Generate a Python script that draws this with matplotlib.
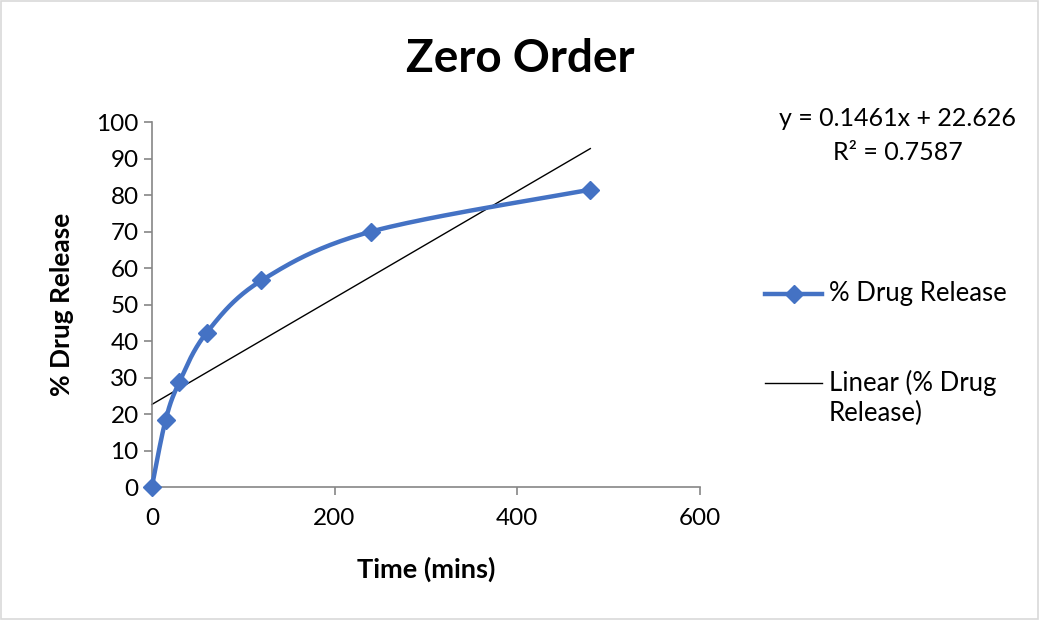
import matplotlib.pyplot as plt
import numpy as np
from matplotlib.lines import Line2D

# Data
time_mins = [0, 15, 30, 60, 120, 240, 480]
drug_release = [0, 18.3, 28.7, 42.3, 56.6, 70.0, 81.5]
slope = 0.1461
intercept = 22.626
r_squared = 0.7587

plt.rcParams['font.family'] = ['Lato', 'DejaVu Sans']

BLUE = '#4472C4'
GREY = '#868686'


def smooth_curve(x, y, n=40):
    # Catmull-Rom style smoothing, similar to Excel's "smoothed line"
    x = np.asarray(x, float)
    y = np.asarray(y, float)
    px = np.concatenate([[x[0]], x, [x[-1]]])
    py = np.concatenate([[y[0]], y, [y[-1]]])
    xs, ys = [], []
    t = np.linspace(0, 1, n)
    for i in range(1, len(px) - 2):
        p0x, p1x, p2x, p3x = px[i - 1], px[i], px[i + 1], px[i + 2]
        p0y, p1y, p2y, p3y = py[i - 1], py[i], py[i + 1], py[i + 2]
        c1x = p1x + (p2x - p0x) / 6
        c1y = p1y + (p2y - p0y) / 6
        c2x = p2x - (p3x - p1x) / 6
        c2y = p2y - (p3y - p1y) / 6
        bx = (1 - t) ** 3 * p1x + 3 * (1 - t) ** 2 * t * c1x + 3 * (1 - t) * t ** 2 * c2x + t ** 3 * p2x
        by = (1 - t) ** 3 * p1y + 3 * (1 - t) ** 2 * t * c1y + 3 * (1 - t) * t ** 2 * c2y + t ** 3 * p2y
        xs.extend(bx)
        ys.extend(by)
    return np.array(xs), np.array(ys)


fig = plt.figure(figsize=(10.4, 6.2), dpi=100)
ax = fig.add_axes([0.146, 0.2145, 0.527, 0.5885])

sx, sy = smooth_curve(time_mins, drug_release)
ax.plot(sx, sy, color=BLUE, linewidth=3.2, solid_capstyle='round', zorder=3)
ax.plot(time_mins, drug_release, linestyle='none', marker='D', markersize=9,
        color=BLUE, zorder=4)

fit_x = np.array([time_mins[0], time_mins[-1]])
ax.plot(fit_x, slope * fit_x + intercept, color='black', linewidth=1, zorder=2)

ax.set_xlim(0, 600)
ax.set_ylim(0, 100)
ax.set_xticks(range(0, 601, 200))
ax.set_yticks(range(0, 101, 10))
ax.spines['top'].set_visible(False)
ax.spines['right'].set_visible(False)
for s in ('left', 'bottom'):
    ax.spines[s].set_color(GREY)
    ax.spines[s].set_linewidth(1.2)
ax.tick_params(axis='both', colors=GREY, labelcolor='black', labelsize=17.5,
               direction='out', length=6, width=1.2)
ax.tick_params(axis='x', pad=9)
for line in ax.lines:
    line.set_clip_on(False)

ax.set_xlabel('Time (mins)', fontsize=19.5, fontweight='bold', labelpad=20)
ax.set_ylabel('% Drug Release', fontsize=19, fontweight='bold', labelpad=16)
fig.text(0.5, 0.905, 'Zero Order', ha='center', va='center', fontsize=33, fontweight='bold')

fig.text(0.863, 0.781, f'y = {slope}x + {intercept}\nR² = {r_squared}', ha='center', va='center',
         fontsize=18, linespacing=1.6)

# legend, drawn by hand so the trendline key sits on its first text line
def px(xp, yp):
    return xp / 1040, 1 - yp / 620

x0, _ = px(765, 0)
x1, _ = px(822, 0)
xt, _ = px(829, 0)
_, y1 = px(0, 294)
_, y2 = px(0, 383)
_, y3 = px(0, 413)
fig.add_artist(Line2D([x0, x1], [y1, y1], transform=fig.transFigure, color=BLUE, linewidth=3.2))
fig.add_artist(Line2D([(x0 + x1) / 2], [y1], transform=fig.transFigure, color=BLUE,
                      marker='D', markersize=9, linestyle='none'))
fig.add_artist(Line2D([x0, x1], [y2, y2], transform=fig.transFigure, color='black', linewidth=1))
fig.text(xt, y1, '% Drug Release', fontsize=18.5, va='center', ha='left')
fig.text(xt, y2, 'Linear (% Drug', fontsize=18.5, va='center', ha='left')
fig.text(xt, y3, 'Release)', fontsize=18.5, va='center', ha='left')

fig.patches.append(plt.Rectangle((0.001, 0.002), 0.997, 0.996, transform=fig.transFigure,
                                 fill=False, edgecolor='#D9D9D9', linewidth=1.2))

fig.savefig('out.png', dpi=100)
